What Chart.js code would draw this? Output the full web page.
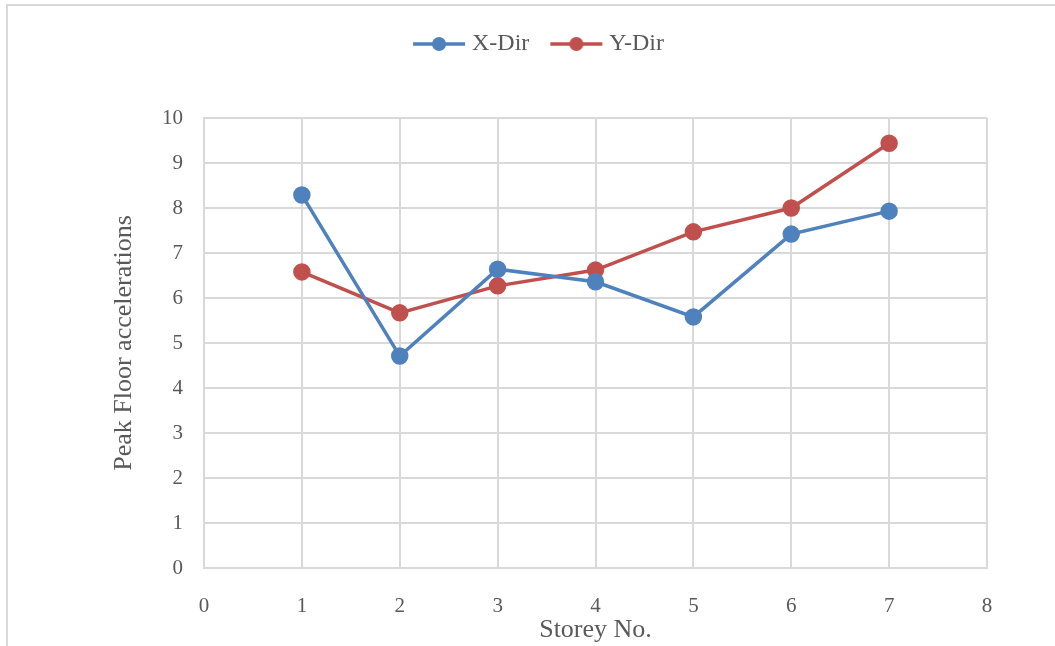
<!DOCTYPE html>
<html>
<head>
<meta charset="utf-8">
<script src="https://cdn.jsdelivr.net/npm/chart.js@4.4.1/dist/chart.umd.min.js"></script>
<style>
  html, body { margin: 0; padding: 0; background: #fff; overflow: hidden; }
  .frame { position: absolute; left: 6px; top: 4px; width: 1200px; height: 800px; border: 2px solid #d9d9d9; }
  .wrap { position: absolute; left: 0; top: 0; width: 1055px; height: 646px; }
</style>
</head>
<body>
<div class="frame"></div>
<div class="wrap"><canvas id="chart" width="1055" height="646"></canvas></div>
<script>
// storey numbers and peak floor accelerations
const storeys = [1, 2, 3, 4, 5, 6, 7];
const xDir = [8.29, 4.71, 6.64, 6.36, 5.58, 7.42, 7.93];
const yDir = [6.58, 5.67, 6.27, 6.62, 7.47, 8.0, 9.44];
const seriesNames = ["X-Dir", "Y-Dir"];
const xTitle = "Storey No.";
const yTitle = "Peak Floor accelerations";

const blue = "#4f81bd";
const red = "#c0504d";
const gridColor = "#d9d9d9";
const textColor = "#595959";
const fontFamily = "'Liberation Serif', 'Times New Roman', serif";

// legend marker: line with a dot in the middle
function legendMarker(color) {
    const c = document.createElement("canvas");
    c.width = 54;
    c.height = 16;
    const g = c.getContext("2d");
    g.strokeStyle = color;
    g.lineWidth = 3.5;
    g.beginPath();
    g.moveTo(1, 8);
    g.lineTo(53, 8);
    g.stroke();
    g.fillStyle = color;
    g.beginPath();
    g.arc(27, 8, 7, 0, Math.PI * 2);
    g.fill();
    return c;
}

function toPoints(values) {
    return storeys.map((s, i) => ({ x: s, y: values[i] }));
}

const legendHeight = {
    id: "legendHeight",
    beforeInit(chart) {
        const fit = chart.legend.fit;
        chart.legend.fit = function () {
            fit.bind(chart.legend)();
            this.height = 112;
        };
    }
};

new Chart(document.getElementById("chart"), {
    type: "line",
    data: {
        datasets: [
            {
                label: seriesNames[0],
                data: toPoints(xDir),
                borderColor: blue,
                backgroundColor: blue,
                borderWidth: 3.5,
                pointRadius: 7,
                pointHoverRadius: 7,
                pointStyle: "circle",
                tension: 0
            },
            {
                label: seriesNames[1],
                data: toPoints(yDir),
                borderColor: red,
                backgroundColor: red,
                borderWidth: 3.5,
                pointRadius: 7,
                pointHoverRadius: 7,
                pointStyle: "circle",
                tension: 0
            }
        ]
    },
    options: {
        responsive: false,
        animation: false,
        devicePixelRatio: 1,
        layout: { padding: { left: 95, right: 68, top: 6, bottom: 0 } },
        plugins: {
            tooltip: { enabled: false },
            legend: {
                position: "top",
                labels: {
                    usePointStyle: true,
                    pointStyleWidth: 42,
                    padding: 26,
                    color: textColor,
                    font: { family: fontFamily, size: 24 },
                    generateLabels(chart) {
                        return chart.data.datasets.map((ds, i) => ({
                            text: ds.label,
                            pointStyle: legendMarker(ds.borderColor),
                            fillStyle: ds.borderColor,
                            strokeStyle: ds.borderColor,
                            lineWidth: 0,
                            fontColor: textColor,
                            datasetIndex: i
                        }));
                    }
                }
            }
        },
        scales: {
            x: {
                type: "linear",
                min: 0,
                max: 8,
                ticks: { stepSize: 1, color: textColor, padding: 26, font: { family: fontFamily, size: 21 } },
                grid: { color: gridColor, lineWidth: 2, drawTicks: false },
                border: { color: gridColor, width: 2 },
                title: {
                    display: true,
                    text: xTitle,
                    color: textColor,
                    font: { family: fontFamily, size: 26 },
                    padding: { top: 0, bottom: 0 }
                },
                afterFit(s) { s.height = 78; }
            },
            y: {
                min: 0,
                max: 10,
                ticks: { stepSize: 1, color: textColor, padding: 21, font: { family: fontFamily, size: 21 } },
                grid: { color: gridColor, lineWidth: 2, drawTicks: false },
                border: { color: gridColor, width: 2 },
                title: {
                    display: true,
                    text: yTitle,
                    color: textColor,
                    font: { family: fontFamily, size: 26 },
                    padding: { top: 14, bottom: 0 }
                },
                afterFit(s) { s.width = 109; }
            }
        }
    },
    plugins: [legendHeight]
});
</script>
</body>
</html>
